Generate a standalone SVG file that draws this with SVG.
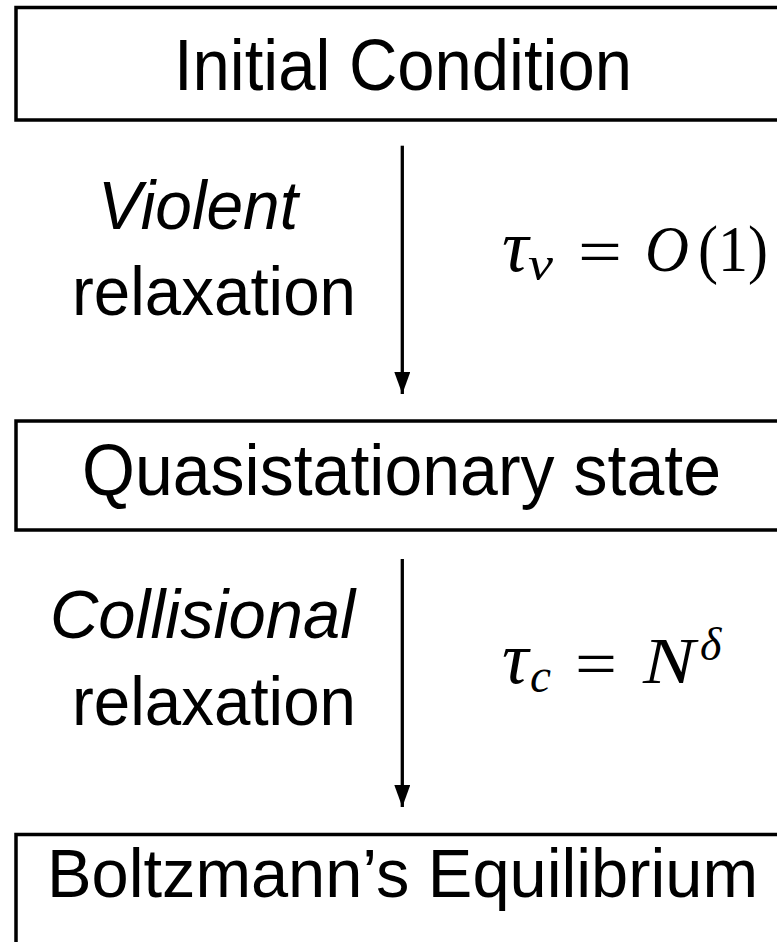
<svg xmlns="http://www.w3.org/2000/svg" width="777" height="942" viewBox="0 0 777 942">
<style>
.box{fill:none;stroke:#000;stroke-width:3.5}
.t{font-family:"Liberation Sans",Arial,sans-serif;font-size:72px;text-anchor:middle;fill:#000}
.lbl{font-family:"Liberation Sans",Arial,sans-serif;font-size:68px;text-anchor:middle;fill:#000}
.it{font-style:italic}
.m{font-family:"Liberation Serif","Times New Roman",serif;font-size:66px;fill:#000}
.tau{font-size:74px;font-style:italic}
.ms{font-family:"Liberation Serif","Times New Roman",serif;font-size:48px;font-style:italic;fill:#000}
.conn{stroke:#000;stroke-width:3.3;fill:none}
</style>
<defs>
<marker id="ah" markerUnits="userSpaceOnUse" viewBox="0 0 22 16" markerWidth="22" markerHeight="16" refX="22" refY="8" orient="auto">
<path d="M0,0 L22,8 L0,16 Z" fill="#000"/>
</marker>
</defs>
<g id="node-initial">
<path class="box" d="M777,7.5 H16 V120 H777"/>
<text class="t" x="403" y="90" textLength="458" lengthAdjust="spacingAndGlyphs">Initial Condition</text>
</g>
<g id="node-quasi">
<path class="box" d="M777,421 H16 V530 H777"/>
<text class="t" x="401.5" y="495" textLength="639" lengthAdjust="spacingAndGlyphs">Quasistationary state</text>
</g>
<g id="node-boltzmann">
<path class="box" d="M777,834.5 H16 V942"/>
<text class="t" x="402.5" y="897" style="font-size:69px" textLength="711" lengthAdjust="spacingAndGlyphs">Boltzmann’s Equilibrium</text>
</g>
<g id="connectors">
<line class="conn" x1="402.3" y1="145.7" x2="402.3" y2="394" marker-end="url(#ah)"/>
<line class="conn" x1="402.3" y1="559" x2="402.3" y2="807" marker-end="url(#ah)"/>
</g>
<g id="label-violent">
<text class="lbl it" x="198" y="229" textLength="200" lengthAdjust="spacingAndGlyphs">Violent</text>
<text class="lbl" x="214" y="315" textLength="284" lengthAdjust="spacingAndGlyphs">relaxation</text>
</g>
<g id="label-collisional">
<text class="lbl it" x="202.5" y="638" textLength="305" lengthAdjust="spacingAndGlyphs">Collisional</text>
<text class="lbl" x="214" y="725" textLength="284" lengthAdjust="spacingAndGlyphs">relaxation</text>
</g>
<g id="math-tau-v">
<text class="m tau" x="502" y="271">τ</text>
<text class="ms" x="528" y="280" textLength="25" lengthAdjust="spacingAndGlyphs">v</text>
<text class="m" x="578" y="274" textLength="44" lengthAdjust="spacingAndGlyphs">=</text>
<text class="m" x="645" y="271" font-style="italic" textLength="44" lengthAdjust="spacingAndGlyphs">O</text>
<text class="m" x="698" y="271" textLength="70" lengthAdjust="spacingAndGlyphs">(1)</text>
</g>
<g id="math-tau-c">
<text class="m tau" x="502" y="683">τ</text>
<text class="ms" x="530" y="692" textLength="21" lengthAdjust="spacingAndGlyphs">c</text>
<text class="m" x="575" y="686" textLength="42" lengthAdjust="spacingAndGlyphs">=</text>
<text class="m" x="643" y="683" font-style="italic" textLength="52" lengthAdjust="spacingAndGlyphs">N</text>
<text class="ms" x="700" y="660" style="font-size:46px">δ</text>
</g>
</svg>
